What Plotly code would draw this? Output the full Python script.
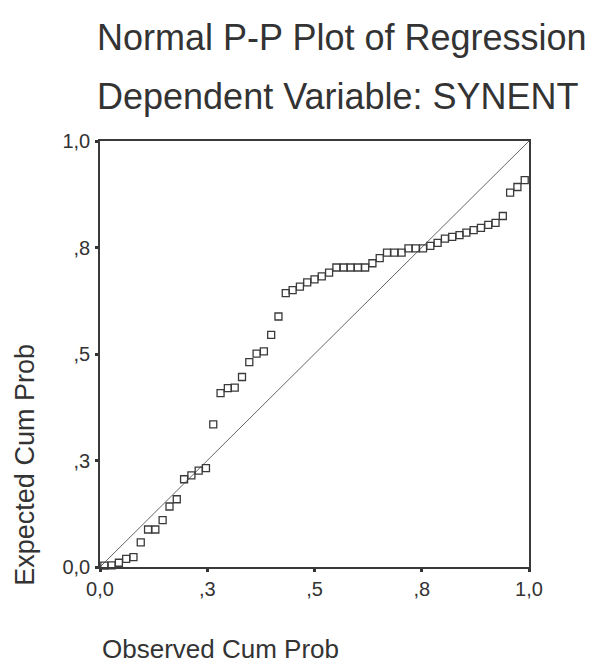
import plotly.graph_objects as go

# Observed cumulative probability (x)
observed = [0.010, 0.027, 0.044, 0.061, 0.078, 0.095, 0.112, 0.129, 0.146, 0.162,
            0.179, 0.196, 0.213, 0.230, 0.247, 0.264, 0.281, 0.298, 0.314, 0.331,
            0.348, 0.365, 0.382, 0.399, 0.416, 0.433, 0.449, 0.466, 0.483, 0.500,
            0.517, 0.534, 0.551, 0.568, 0.584, 0.601, 0.618, 0.635, 0.652, 0.669,
            0.686, 0.703, 0.719, 0.736, 0.753, 0.770, 0.787, 0.804, 0.821, 0.838,
            0.854, 0.871, 0.888, 0.905, 0.922, 0.939, 0.956, 0.973, 0.990]

# Expected cumulative probability (y)
expected = [0.003, 0.004, 0.010, 0.019, 0.023, 0.058, 0.088, 0.088, 0.110, 0.142,
            0.159, 0.206, 0.215, 0.226, 0.232, 0.335, 0.408, 0.420, 0.421, 0.446,
            0.481, 0.501, 0.506, 0.545, 0.588, 0.643, 0.650, 0.658, 0.668, 0.675,
            0.682, 0.691, 0.703, 0.703, 0.703, 0.703, 0.703, 0.713, 0.725, 0.738,
            0.738, 0.738, 0.748, 0.748, 0.748, 0.754, 0.761, 0.771, 0.775, 0.779,
            0.785, 0.791, 0.796, 0.803, 0.808, 0.824, 0.879, 0.892, 0.908]

# Reference diagonal
diag_x = [0.0, 1.0]
diag_y = [0.0, 1.0]

tick_vals = [0.0, 0.25, 0.5, 0.75, 1.0]
tick_text = ["0,0", ",3", ",5", ",8", "1,0"]

title_line1 = "Normal P-P Plot of Regression"
title_line2 = "Dependent Variable: SYNENT"
x_title = "Observed Cum Prob"
y_title = "Expected Cum Prob"

FONT = "Arial, Liberation Sans, sans-serif"
TXT = "#333333"

fig = go.Figure()
fig.add_trace(go.Scatter(x=diag_x, y=diag_y, mode="lines",
                         line=dict(color="#555555", width=0.9),
                         hoverinfo="skip", showlegend=False))
fig.add_trace(go.Scatter(x=observed, y=expected, mode="markers",
                         marker=dict(symbol="square-open", size=7,
                                     color="#3a3a3a", line=dict(width=1.3)),
                         cliponaxis=False, showlegend=False))

axis_common = dict(range=[0, 1], tickvals=tick_vals, ticktext=tick_text,
                   showgrid=False, zeroline=False, showline=True, mirror=True,
                   linecolor="#3a3a3a", linewidth=1.6, ticks="outside",
                   ticklen=3, tickwidth=3, tickcolor="#333333",
                   tickfont=dict(family=FONT, size=20, color=TXT))

fig.update_xaxes(**axis_common)
fig.update_yaxes(**axis_common, ticklabelstandoff=1)

fig.update_layout(
    width=599, height=664,
    margin=dict(l=100, r=70, t=141, b=97),
    paper_bgcolor="white", plot_bgcolor="white",
    font=dict(family=FONT, color=TXT),
    annotations=[
        dict(text=title_line1, xref="paper", yref="paper", x=-0.012, y=1.244,
             xanchor="left", yanchor="middle", showarrow=False,
             font=dict(size=36, family=FONT, color=TXT)),
        dict(text=title_line2, xref="paper", yref="paper", x=-0.012, y=1.1033,
             xanchor="left", yanchor="middle", showarrow=False,
             font=dict(size=36, family=FONT, color=TXT)),
        dict(text=x_title, xref="paper", yref="paper", x=0.0, y=-0.193,
             xanchor="left", yanchor="middle", showarrow=False,
             font=dict(size=26, family=FONT, color=TXT)),
        dict(text=y_title, xref="paper", yref="paper", x=-0.175, y=0.24,
             xanchor="center", yanchor="middle", textangle=-90, showarrow=False,
             font=dict(size=27, family=FONT, color=TXT)),
    ],
)

fig.write_html("out.html")
